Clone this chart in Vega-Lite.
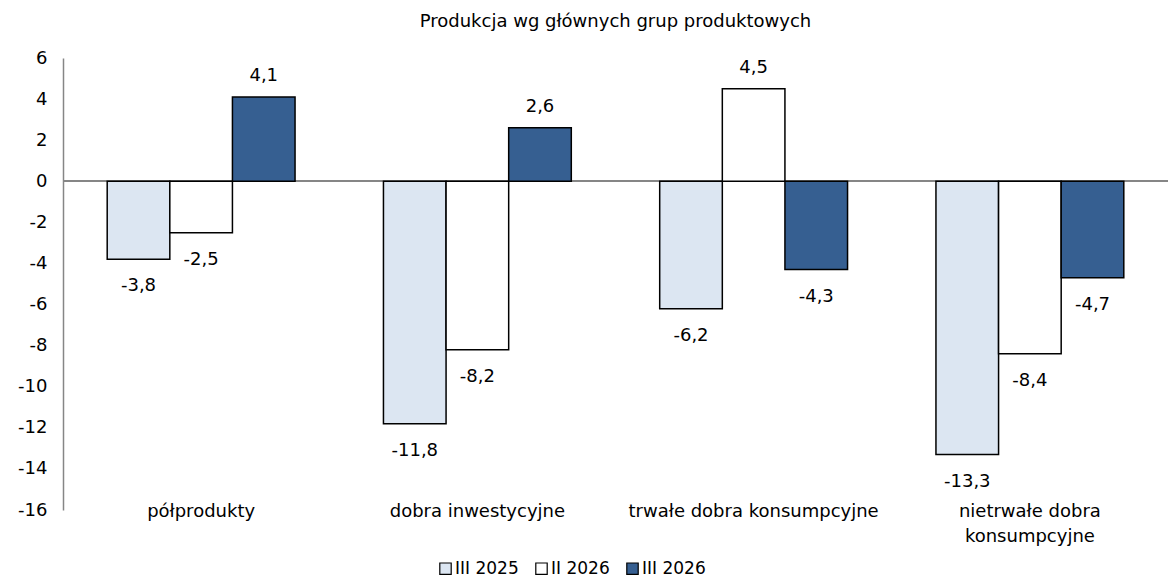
{
  "$schema": "https://vega.github.io/schema/vega-lite/v6.json",
  "autosize": "none",
  "width": 1105,
  "height": 452,
  "padding": {"left": 63, "top": 58, "right": 3, "bottom": 71},
  "background": "white",
  "config": {
    "locale": {"number": {"decimal": ",", "thousands": " ", "grouping": [3], "currency": ["", " zł"], "minus": "-"}},
    "font": "DejaVu Sans",
    "view": {"stroke": null},
    "axis": {"labelFont": "DejaVu Sans", "labelFontSize": 18, "labelColor": "black", "grid": false, "ticks": false},
    "legend": {"labelFont": "DejaVu Sans", "labelFontSize": 17, "labelColor": "black"}
  },
  "title": {"text": "Produkcja wg głównych grup produktowych", "fontSize": 18, "fontWeight": "normal", "font": "DejaVu Sans", "color": "black", "anchor": "middle", "offset": 18},
  "data": {"values": [
    {"kategoria": "półprodukty", "okres": "III 2025", "wartosc": -3.8},
    {"kategoria": "półprodukty", "okres": "II 2026", "wartosc": -2.5},
    {"kategoria": "półprodukty", "okres": "III 2026", "wartosc": 4.1},
    {"kategoria": "dobra inwestycyjne", "okres": "III 2025", "wartosc": -11.8},
    {"kategoria": "dobra inwestycyjne", "okres": "II 2026", "wartosc": -8.2},
    {"kategoria": "dobra inwestycyjne", "okres": "III 2026", "wartosc": 2.6},
    {"kategoria": "trwałe dobra konsumpcyjne", "okres": "III 2025", "wartosc": -6.2},
    {"kategoria": "trwałe dobra konsumpcyjne", "okres": "II 2026", "wartosc": 4.5},
    {"kategoria": "trwałe dobra konsumpcyjne", "okres": "III 2026", "wartosc": -4.3},
    {"kategoria": "nietrwałe dobra konsumpcyjne", "okres": "III 2025", "wartosc": -13.3},
    {"kategoria": "nietrwałe dobra konsumpcyjne", "okres": "II 2026", "wartosc": -8.4},
    {"kategoria": "nietrwałe dobra konsumpcyjne", "okres": "III 2026", "wartosc": -4.7}
  ]},
  "encoding": {
    "x": {"field": "kategoria", "type": "nominal", "sort": null,
      "scale": {"paddingInner": 0.32, "paddingOuter": 0.16},
      "axis": {"title": null, "labelAngle": 0, "domain": false, "labelPadding": -8, "labelLineHeight": 25, "labelLimit": 0,
        "labelExpr": "datum.label == 'nietrwałe dobra konsumpcyjne' ? ['nietrwałe dobra', 'konsumpcyjne'] : datum.label"}},
    "xOffset": {"field": "okres", "type": "nominal", "sort": ["III 2025", "II 2026", "III 2026"], "scale": {"paddingInner": 0, "paddingOuter": 0}},
    "y": {"field": "wartosc", "type": "quantitative",
      "scale": {"domain": [-16, 6], "nice": false, "zero": false},
      "axis": {"title": null, "values": [-16, -14, -12, -10, -8, -6, -4, -2, 0, 2, 4, 6], "format": "d", "domainColor": "#868686", "domainWidth": 1.5, "labelPadding": 16}}
  },
  "layer": [
    {
      "mark": {"type": "rule", "color": "#868686", "strokeWidth": 1.5},
      "encoding": {"y": {"datum": 0}, "x": null, "xOffset": null, "x2": null}
    },
    {
      "mark": {"type": "bar", "stroke": "black", "strokeWidth": 1.5},
      "encoding": {
        "y2": {"datum": 0},
        "color": {"field": "okres", "type": "nominal", "sort": ["III 2025", "II 2026", "III 2026"],
          "scale": {"domain": ["III 2025", "II 2026", "III 2026"], "range": ["#DCE6F2", "#FFFFFF", "#365F91"]},
          "legend": {"title": null, "orient": "none", "legendX": 374, "legendY": 502, "direction": "horizontal", "symbolType": "square", "symbolSize": 130, "symbolStrokeColor": "black", "symbolStrokeWidth": 1.2, "labelOffset": 1, "columnPadding": 14}}
      }
    },
    {
      "transform": [{"filter": "datum.wartosc >= 0"}],
      "mark": {"type": "text", "baseline": "bottom", "dy": -12, "fontSize": 18, "color": "black"},
      "encoding": {"text": {"field": "wartosc", "type": "quantitative", "format": ".1f"}}
    },
    {
      "transform": [{"filter": "datum.wartosc < 0"}],
      "mark": {"type": "text", "baseline": "top", "dy": 18, "fontSize": 18, "color": "black"},
      "encoding": {"text": {"field": "wartosc", "type": "quantitative", "format": ".1f"}}
    }
  ]
}
